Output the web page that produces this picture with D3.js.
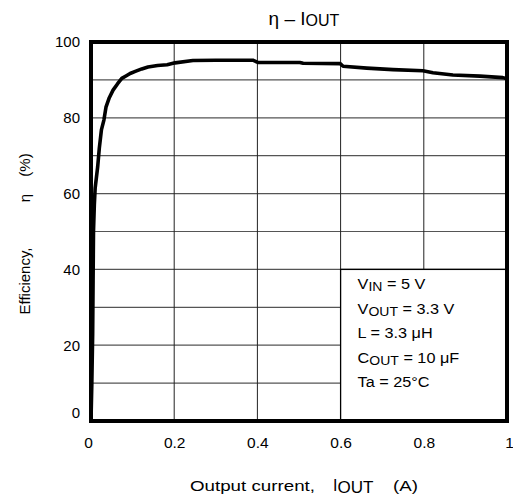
<!DOCTYPE html>
<html>
<head>
<meta charset="utf-8">
<script src="https://cdn.jsdelivr.net/npm/d3@7"></script>
<style>
  body { margin: 0; background: #fff; }
  svg text { font-family: "Liberation Sans", Arial, sans-serif; fill: #000; }
</style>
</head>
<body>
<div id="chart"></div>
<script>
// efficiency curve
var currentA = [0, 0.002, 0.004, 0.005, 0.006, 0.008, 0.010, 0.016, 0.020, 0.025, 0.031, 0.036, 0.044, 0.053, 0.064, 0.074, 0.085, 0.094, 0.108, 0.122, 0.137, 0.160, 0.183, 0.202, 0.245, 0.300, 0.389, 0.401, 0.502, 0.510, 0.599, 0.606, 0.663, 0.726, 0.798, 0.822, 0.870, 0.935, 0.990, 1.0]
var efficiencyPct = [0, 10, 23, 37, 50, 57, 61.5, 67, 72, 76.8, 79.4, 82.8, 85.3, 87.3, 89, 90.4, 91.1, 91.7, 92.3, 92.9, 93.4, 93.8, 94, 94.5, 95.1, 95.2, 95.2, 94.6, 94.6, 94.4, 94.3, 93.6, 93.1, 92.7, 92.4, 91.9, 91.3, 91.0, 90.6, 90.3]

var xTicks = [0, 0.2, 0.4, 0.6, 0.8, 1]
var xTickLabels = ["0", "0.2", "0.4", "0.6", "0.8", "1"]
var yTicks = [0, 20, 40, 60, 80, 100]
var yGrid = [10, 20, 30, 40, 50, 60, 70, 80, 90]

// legend: [main, subscript, rest]
var legendLines = [
  ["V", "IN", " = 5 V"],
  ["V", "OUT", " = 3.3 V"],
  ["L = 3.3 \u03bcH", "", ""],
  ["C", "OUT", " = 10 \u03bcF"],
  ["Ta = 25\u00b0C", "", ""]
]
var legendBox = { x0: 0.6, x1: 1.0, y0: 0, y1: 40 }

var W = 513, H = 500
var margin = { top: 42, right: 6, bottom: 79, left: 91 }
var iw = W - margin.left - margin.right
var ih = H - margin.top - margin.bottom

var svg = d3.select("#chart").append("svg")
    .attr("width", W)
    .attr("height", H)

var g = svg.append("g")
    .attr("transform", "translate(" + margin.left + "," + margin.top + ")")

var x = d3.scaleLinear().domain([0, 1]).range([0, iw])
var y = d3.scaleLinear().domain([0, 100]).range([ih, 0])

// horizontal grid
g.selectAll(".hgrid")
  .data(yGrid)
  .enter()
  .append("line")
  .attr("x1", 0).attr("x2", iw)
  .attr("y1", function (d) { return y(d) })
  .attr("y2", function (d) { return y(d) })
  .attr("stroke", "#555")
  .attr("stroke-width", 1.2)

// vertical grid
g.selectAll(".vgrid")
  .data(xTicks.slice(1, -1))
  .enter()
  .append("line")
  .attr("x1", function (d) { return x(d) })
  .attr("x2", function (d) { return x(d) })
  .attr("y1", 0).attr("y2", ih)
  .attr("stroke", "#222")
  .attr("stroke-width", 1)

// legend box covers the grid
g.append("rect")
  .attr("x", x(legendBox.x0))
  .attr("y", y(legendBox.y1))
  .attr("width", x(legendBox.x1) - x(legendBox.x0))
  .attr("height", y(legendBox.y0) - y(legendBox.y1))
  .attr("fill", "#fff")
  .attr("stroke", "#000")
  .attr("stroke-width", 1.3)

// text in the source is a bit wider than it is tall
var legend = g.append("g")
    .attr("transform", "translate(" + (x(legendBox.x0) + 17) + "," + (y(legendBox.y1) + 20) + ") scale(1.12,1)")
legendLines.forEach(function (l, i) {
  var t = legend.append("text")
    .attr("x", 0)
    .attr("y", i * 24.5)
    .attr("font-size", 14.5)
  t.append("tspan").text(l[0])
  if (l[1]) {
    t.append("tspan").text(l[1]).attr("font-size", 12.5).attr("dy", 2)
    t.append("tspan").text(l[2]).attr("dy", -2)
  }
})

// curve
var line = d3.line()
    .x(function (d, i) { return x(currentA[i]) })
    .y(function (d, i) { return y(efficiencyPct[i]) })
    .curve(d3.curveLinear)

g.append("path")
  .datum(currentA)
  .attr("d", line)
  .attr("fill", "none")
  .attr("stroke", "#000")
  .attr("stroke-width", 3.6)
  .attr("stroke-linejoin", "round")

// frame
g.append("rect")
  .attr("x", 0).attr("y", 0)
  .attr("width", iw).attr("height", ih)
  .attr("fill", "none")
  .attr("stroke", "#000")
  .attr("stroke-width", 4)

// axes (labels only)
var xAxis = d3.axisBottom(x)
    .tickValues(xTicks)
    .tickFormat(function (d, i) { return xTickLabels[i] })
    .tickSize(0)
    .tickPadding(16)
var gx = g.append("g")
    .attr("transform", "translate(0," + ih + ")")
    .call(xAxis)
gx.select(".domain").remove()
gx.selectAll("text")
  .attr("font-size", 15.5)
  .attr("font-family", "Liberation Sans, Arial, sans-serif")
  .attr("dx", function (d) { return d === 0 ? -3 : (d === 1 ? 2 : 0) })

var yAxis = d3.axisLeft(y)
    .tickValues(yTicks)
    .tickFormat(d3.format("d"))
    .tickSize(0)
    .tickPadding(11)
var gy = g.append("g").call(yAxis)
gy.select(".domain").remove()
gy.selectAll("text")
  .attr("font-size", 15)
  .attr("font-family", "Liberation Sans, Arial, sans-serif")
  .attr("dy", function (d) { return d === 0 ? "-0.25em" : "0.32em" })

// title
var title = svg.append("text")
    .attr("x", 304)
    .attr("y", 25)
    .attr("text-anchor", "middle")
    .attr("font-size", 19)
title.append("tspan").text("\u03b7 \u2013 I")
title.append("tspan").text("OUT").attr("font-size", 16).attr("dy", 1)

// x title
var xt = svg.append("text")
    .attr("y", 491)
    .attr("font-size", 15)
xt.append("tspan").text("Output current,").attr("x", 190)
  .attr("textLength", 125).attr("lengthAdjust", "spacingAndGlyphs")
xt.append("tspan").text("I").attr("x", 333).attr("font-size", 16)
xt.append("tspan").text("OUT").attr("font-size", 16).attr("dy", 2)
  .attr("textLength", 36).attr("lengthAdjust", "spacingAndGlyphs")
xt.append("tspan").text("(A)").attr("x", 393).attr("dy", -2)
  .attr("textLength", 25).attr("lengthAdjust", "spacingAndGlyphs")

// y title, three pieces along the rotated axis
var yTitle = [["Efficiency,", 281], ["\u03b7", 198], ["(%)", 165]]
svg.selectAll(".ytitle")
  .data(yTitle)
  .enter()
  .append("text")
  .attr("transform", function (d) { return "translate(30," + d[1] + ") rotate(-90)" })
  .attr("text-anchor", "middle")
  .attr("font-size", 15)
  .text(function (d) { return d[0] })
</script>
</body>
</html>
